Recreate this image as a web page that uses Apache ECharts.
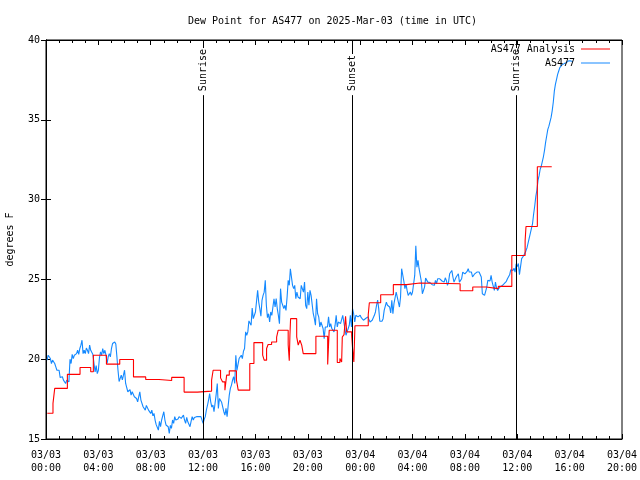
<!DOCTYPE html>
<html>
<head>
<meta charset="utf-8">
<script src="https://cdn.jsdelivr.net/npm/echarts/dist/echarts.min.js"></script>
<style>
html,body{margin:0;padding:0;background:#fff;}
#chart{width:640px;height:480px;}
</style>
</head>
<body>
<div id="chart"></div>
<script>
// ---- data ----
const titleText = 'Dew Point for AS477 on 2025-Mar-03 (time in UTC)';
const tickLabels = ['03/03\n00:00','03/03\n04:00','03/03\n08:00','03/03\n12:00','03/03\n16:00','03/03\n20:00',
                    '03/04\n00:00','03/04\n04:00','03/04\n08:00','03/04\n12:00','03/04\n16:00','03/04\n20:00'];
const sunEventHours = [12.0, 23.4, 35.9];
const sunEventNames = ['Sunrise', 'Sunset', 'Sunrise'];

// AS477 Analysis: minutes after 2025-03-03 00:00 UTC, value in deg F (step function)
const analysisMinutes = [6,32,40,98,156,205,217,277,338,401,457,518,576,633,694,759,766,800,809,820,
  828,840,873,881,934,953,993,1000,1011,1018,1034,1057,1064,1110,1115,1118,1121,1149,1156,1164,
  1172,1179,1237,1291,1294,1298,1335,1347,1355,1358,1366,1373,1378,1401,1405,1411,1416,1477,1482,1534,
  1592,1653,1714,1898,1956,2017,2073,2135,2196,2200,2252,2318];
const analysisValues = [16.61,17.23,18.17,19.05,19.48,19.21,20.25,19.69,19.98,18.89,18.73,18.67,18.86,17.94,18.0,18.69,19.31,18.83,18.58,18.06,
  19.0,19.27,18.69,18.06,19.73,21.04,20.25,19.94,20.67,20.92,21.08,21.39,21.81,20.9,19.9,21.5,22.54,21.4,20.88,21.19,
  20.88,20.35,21.44,19.67,20.6,21.81,19.79,20.04,19.83,21.39,21.54,22.69,21.71,21.5,20.71,19.83,22.1,22.8,23.54,24.04,
  24.67,24.77,24.73,24.29,24.52,24.42,24.56,26.5,27.44,28.31,32.06,32.06];

// AS477 observations: every 5 minutes starting 00:05 UTC
const obsStartMinute = 5;
const obsStepMinutes = 5;
const obsValues = [
19.94,20.25,20.31,20.04,19.73,19.94,20.04,19.73,19.52,19.31,
19.2,19.31,18.85,18.79,18.9,18.69,18.6,18.48,18.69,18.6,
18.58,20.0,19.73,20.3,20.04,20.25,20.25,20.35,20.56,20.3,
20.67,20.88,21.19,20.35,20.56,20.35,20.7,20.56,20.35,20.88,
20.56,20.46,20.3,19.73,19.21,19.6,19.1,19.31,20.1,20.46,
20.25,20.67,20.35,20.56,20.25,19.73,20.15,20.35,20.15,20.67,
20.98,21.08,21.08,20.95,20.15,19.31,18.6,18.69,19.0,18.7,
19.0,19.31,18.48,18.6,17.96,17.85,18.1,17.75,17.96,18.06,
17.65,17.55,17.54,17.33,17.23,17.96,17.44,17.5,17.02,17.13,
16.81,17.1,17.02,16.81,16.92,16.6,16.81,16.45,16.6,16.19,
15.9,15.98,15.56,16.1,15.77,16.19,16.2,16.71,16.19,15.88,
15.9,15.77,15.35,15.85,15.67,16.19,15.98,16.4,16.19,16.19,
16.25,16.4,16.4,16.29,16.19,16.5,16.19,15.98,16.35,16.08,
16.19,15.77,16.1,16.4,16.19,16.35,16.29,16.4,16.4,16.4,
16.4,16.4,16.44,15.98,16.23,16.4,16.81,17.1,17.44,17.85,
17.33,17.0,17.13,16.71,16.81,17.8,18.48,16.92,17.54,17.54,
17.3,17.33,16.71,16.5,16.92,16.4,17.1,17.75,18.17,18.38,
18.69,18.9,18.48,20.25,19.3,19.42,20.04,20.0,20.25,20.04,
20.5,20.67,21.71,21.5,21.71,22.4,22.33,22.13,23.2,22.54,
22.44,22.96,23.06,24.31,23.58,23.17,22.7,23.69,24.0,24.2,
24.94,23.38,22.6,22.85,22.33,22.96,22.75,22.7,23.79,23.27,
23.8,23.17,22.75,22.23,24.42,23.58,23.38,23.17,23.38,23.06,
23.9,24.94,24.63,25.67,25.77,24.63,24.42,24.63,23.79,24.21,
23.9,24.0,23.79,24.63,24.73,24.2,24.83,23.38,23.17,24.21,
23.38,24.31,24.0,23.9,22.85,22.54,22.13,23.79,22.85,22.65,
22.02,22.33,22.13,21.92,21.29,22.02,22.13,22.02,22.65,22.02,
22.23,21.92,22.02,21.71,22.13,22.75,22.02,22.33,22.44,22.23,
22.13,22.75,22.33,21.92,21.5,21.71,21.7,22.13,22.75,22.02,
23.17,22.85,22.33,22.75,22.75,22.65,22.65,22.75,22.6,22.54,
22.44,22.33,22.55,22.6,22.65,22.54,22.33,22.28,22.44,22.54,
22.75,22.96,23.38,23.7,23.17,22.38,22.38,22.38,22.54,23.06,
23.0,23.58,23.38,23.4,23.27,22.9,23.69,22.85,23.5,23.58,
24.21,24.2,23.58,23.27,23.9,25.67,25.6,24.9,24.42,24.7,
24.31,24.0,24.1,24.21,24.0,24.21,24.1,25.25,27.1,25.77,
26.2,25.67,25.67,24.9,24.1,24.0,24.52,25.08,25.1,24.83,
24.83,24.8,24.73,24.67,24.73,24.63,24.94,24.73,25.04,25.1,
25.04,24.94,24.9,24.94,24.83,25.1,24.94,24.63,24.83,25.35,
25.46,25.56,25.15,24.83,24.94,25.15,25.04,25.35,24.83,24.73,
25.04,25.46,25.35,25.35,25.35,25.5,25.67,25.46,25.35,25.46,
25.15,25.25,25.35,25.46,25.46,25.55,25.46,25.46,25.15,24.1,
24.21,24.0,23.94,24.5,24.94,25.04,24.9,25.25,24.83,24.85,
24.31,24.83,24.47,24.31,24.42,24.52,24.58,24.6,24.67,24.73,
24.67,24.88,25.04,25.1,25.29,25.6,25.56,25.56,25.7,25.46,
25.98,25.8,26.0,25.3,25.3,26.3,26.4,26.5,26.6,26.8,
27.0,27.3,27.6,27.9,28.2,28.5,29.1,29.6,30.2,30.6,
31.2,31.5,31.9,32.1,32.4,32.7,33.1,33.6,34.0,34.4,
34.6,34.7,35.15,35.56,36.1,36.81,37.23,37.54,37.85,38.06,
38.27,38.38,38.44,38.48,38.52,38.52,38.58,38.69,38.69,38.65,
38.69,38.69,38.65
];

// ---- build ----
const FONT = '"DejaVu Sans Mono", "Liberation Mono", monospace';
const analysisData = analysisMinutes.map((m, i) => [m / 60, analysisValues[i]]);
const obsData = obsValues.map((v, i) => [(obsStartMinute + i * obsStepMinutes) / 60, v]);

const xCommon = {
  type: 'value', min: 0, max: 44, interval: 4,
  axisLine: { show: true, lineStyle: { color: '#000', width: 1 } },
  axisTick: { show: true, inside: true, length: 5, lineStyle: { color: '#000' } },
  minorTick: { show: true, splitNumber: 4, length: 3, lineStyle: { color: '#000' } },
  splitLine: { show: false },
  minorSplitLine: { show: false }
};
const yCommon = {
  type: 'value', min: 15, max: 40, interval: 5,
  axisLine: { show: true, lineStyle: { color: '#000', width: 1 } },
  axisTick: { show: true, inside: true, length: 5, lineStyle: { color: '#000' } },
  splitLine: { show: false }
};
const legendCommon = {
  right: 30, align: 'right', icon: 'rect', itemWidth: 29, itemHeight: 1, itemGap: 0, padding: 0, z: 20,
  textStyle: { fontFamily: FONT, fontSize: 10, color: '#000', padding: [0, 1, 0, 0] }
};

const chart = echarts.init(document.getElementById('chart'), null, { renderer: 'canvas' });
chart.setOption({
  animation: false,
  backgroundColor: '#fff',
  title: {
    text: titleText, left: 183, top: 11,
    textStyle: { fontFamily: FONT, fontSize: 10, fontWeight: 'normal', color: '#000' }
  },
  grid: { left: 46, right: 18, top: 40, bottom: 41, containLabel: false, outerBoundsMode: 'none',
          show: true, borderColor: '#000', borderWidth: 1, backgroundColor: 'transparent' },
  legend: [
    Object.assign({}, legendCommon, { data: ['AS477 Analysis'], top: 44 }),
    Object.assign({}, legendCommon, { data: ['AS477'], top: 58 })
  ],
  xAxis: [
    Object.assign({}, xCommon, {
      position: 'bottom',
      axisLabel: {
        show: true, margin: 10, fontFamily: FONT, fontSize: 10, color: '#000', lineHeight: 13,
        formatter: v => tickLabels[Math.round(v / 4)] || ''
      }
    }),
    Object.assign({}, xCommon, { position: 'top', axisLabel: { show: false } })
  ],
  yAxis: [
    Object.assign({}, yCommon, {
      position: 'left',
      name: 'degrees F', nameLocation: 'middle', nameGap: 31, nameRotate: 90,
      nameTextStyle: { fontFamily: FONT, fontSize: 10, color: '#000' },
      axisLabel: { show: true, margin: 6, fontFamily: FONT, fontSize: 10, color: '#000' }
    }),
    Object.assign({}, yCommon, { position: 'right', axisLabel: { show: false } })
  ],
  series: [
    {
      name: 'AS477 Analysis', type: 'line', step: 'end',
      data: analysisData, symbol: 'none', showSymbol: false,
      lineStyle: { color: '#ff0000', width: 1.1 }, itemStyle: { color: '#ff0000' },
      z: 3,
      markLine: {
        silent: true, symbol: 'none', animation: false,
        lineStyle: { color: '#000', width: 1, type: 'solid' },
        label: {
          show: true, position: 'insideEnd', formatter: '{b}',
          fontFamily: FONT, fontSize: 10, color: '#000',
          backgroundColor: '#fff', padding: [0, 1, 0, 4]
        },
        data: sunEventHours.map((h, i) => ({
          xAxis: h, name: sunEventNames[i],
          label: { distance: 8 + (7 - sunEventNames[i].length) * 6 }
        }))
      }
    },
    {
      name: 'AS477', type: 'line',
      data: obsData, symbol: 'none', showSymbol: false,
      lineStyle: { color: '#1489ff', width: 1.1 }, itemStyle: { color: '#1489ff' },
      z: 2
    }
  ]
});
</script>
</body>
</html>
